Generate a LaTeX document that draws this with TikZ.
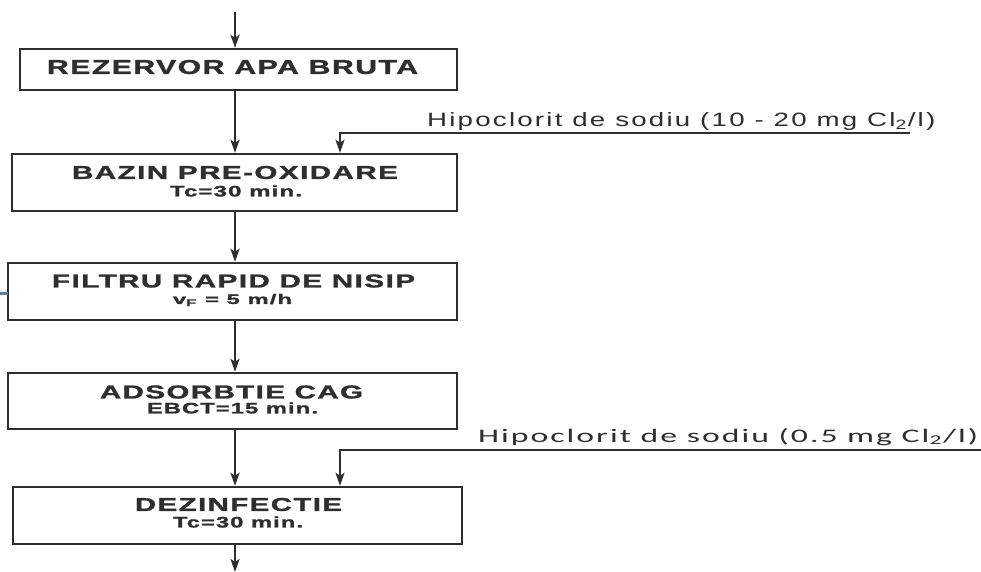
\documentclass[tikz,border=0pt]{standalone}
\usepackage{fontspec}
\usepackage{graphicx}
\setmainfont{Liberation Sans}
\newfontfamily\boxf[LetterSpace=5,FakeBold=1.2]{Liberation Sans}
\newfontfamily\labf[LetterSpace=8]{Liberation Sans}
\newfontfamily\calf[LetterSpace=6]{Carlito}
\usetikzlibrary{arrows.meta}
\definecolor{inkc}{HTML}{2E2E2E}
\definecolor{markc}{HTML}{5A7FA8}
\newcommand\fitw[3]{\resizebox{#1}{#2}{#3}}
\begin{document}
\begin{tikzpicture}[x=1pt,y=-1pt,
  boxnode/.style={draw=inkc, line width=2.4pt, rectangle, inner sep=0pt, fill=white},
  flow/.style={draw=inkc, line width=2.4pt, -{Stealth[length=13pt,width=9pt,inset=3pt]}},
  feed/.style={draw=inkc, line width=1.8pt, -{Stealth[length=13pt,width=9pt,inset=3pt]}},
  txt/.style={inner sep=0pt, text=inkc},
  labtxt/.style={inner sep=0pt, text=inkc, anchor=base west}]
\useasboundingbox (0,0) rectangle (981,572);
\fill[white] (0,0) rectangle (981,572);

% boxes
\node[boxnode, minimum width=437pt, minimum height=41pt] (b1) at (238.5,69.5) {};
\node[boxnode, minimum width=445pt, minimum height=57pt] (b2) at (234.5,182.5) {};
\node[boxnode, minimum width=449pt, minimum height=57pt] (b3) at (232.5,291.5) {};
\node[boxnode, minimum width=449pt, minimum height=56pt] (b4) at (232.5,401) {};
\node[boxnode, minimum width=449pt, minimum height=57pt] (b5) at (237.5,515.5) {};

% texts in boxes
\node[txt] (t1) at (232.5,67) {\fitw{371pt}{14pt}{\boxf\bfseries REZERVOR APA BRUTA}};
\node[txt] (t2) at (235,172.5) {\fitw{326pt}{13pt}{\boxf\bfseries BAZIN PRE-OXIDARE}};
\node[txt] (s2) at (236,191) {\fitw{132pt}{11pt}{\boxf\bfseries Tc=30 min.}};
\node[txt] (t3) at (233.5,281) {\fitw{363pt}{13pt}{\boxf\bfseries FILTRU RAPID DE NISIP}};
\node[txt] (s3) at (232.5,300) {\fitw{119pt}{10pt}{\boxf\bfseries v\textsubscript{F} = 5 m/h}};
\node[txt] (t4) at (231.5,392) {\fitw{263pt}{13pt}{\boxf\bfseries ADSORBTIE CAG}};
\node[txt] (s4) at (232.5,408) {\fitw{171pt}{11pt}{\boxf\bfseries EBCT=15 min.}};
\node[txt] (t5) at (238.5,504.5) {\fitw{207pt}{13pt}{\boxf\bfseries DEZINFECTIE}};
\node[txt] (s5) at (238,522) {\fitw{130pt}{11pt}{\boxf\bfseries Tc=30 min.}};

% main flow
\coordinate (col) at (235,0);
\coordinate (top) at (235,12);
\coordinate (bot) at (235,572);
\draw[flow] (top) -- (b1.north -| col);
\draw[flow] (b1.south -| col) -- (b2.north -| col);
\draw[flow] (b2.south -| col) -- (b3.north -| col);
\draw[flow] (b3.south -| col) -- (b4.north -| col);
\draw[flow] (b4.south -| col) -- (b5.north -| col);
\draw[flow] (b5.south -| col) -- (bot);

% dosing lines
\coordinate (f1) at (910,133);
\coordinate (k1) at (340,133);
\draw[feed] (f1) -- (k1) -- (k1 |- b2.north);
\node[labtxt] (l1) at (427,127) {\fitw{508pt}{14pt}{\labf Hipoclorit de sodiu (10 - 20 mg Cl\textsubscript{2}/l)}};

\coordinate (f2) at (981,450);
\coordinate (k2) at (340,450);
\draw[feed] (f2) -- (k2) -- (k2 |- b5.north);
\node[labtxt] (l2) at (478,442) {\fitw{500pt}{14pt}{\calf Hipoclorit de sodiu (0.5 mg Cl\textsubscript{2}/l)}};

% small blue mark at left edge
\draw[markc, line width=3pt] (0,293) -- (8,293);
\end{tikzpicture}
\end{document}
